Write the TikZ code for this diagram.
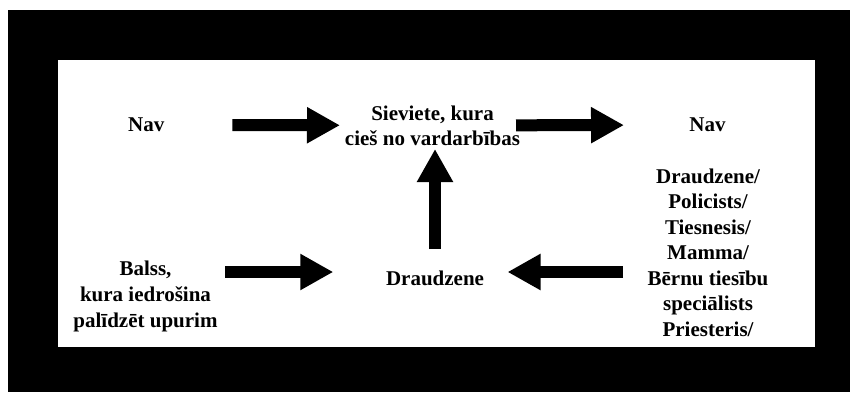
\documentclass[tikz,border=0pt]{standalone}
\usepackage{fontspec}
\setmainfont{Liberation Serif}
\usetikzlibrary{positioning,arrows.meta}

\begin{document}
\begin{tikzpicture}[x=1pt,y=1pt,>={Triangle[width=34pt,length=33pt]},
		blockarrow/.style={->,line width=12pt},
		lbl/.style={align=center,inner sep=0pt,font=\bfseries\fontsize{21}{25.5}\selectfont}]
			
			\useasboundingbox (0,0) rectangle (850,392);
			\fill[black] (8,0) rectangle (850,382);
			\fill[white] (58,45) rectangle (815,332.5);
			
			\node[lbl] (nav1) at (146.3,267) {Nav};
			\node[lbl,font=\bfseries\fontsize{21}{25}\selectfont] (woman) at (432.5,266.6) {Sieviete, kura\\cieš no vardarbības};
			\node[lbl] (nav2) at (707.5,267) {Nav};
			
			\node[lbl,font=\bfseries\fontsize{21}{26}\selectfont] (balss) at (145.5,95.8) {Balss,\\kura iedrošina\\palīdzēt upurim};
			\node[lbl] (drau) at (435,114.1) {Draudzene};
			\node[lbl] (helpers) at (708,139.6) {Draudzene/\\Policists/\\Tiesnesis/\\Mamma/\\Bērnu tiesību\\speciālists\\Priesteris/};
			
			\coordinate (r2) at (0,120);
			
			\draw[blockarrow,shorten <=86pt,shorten >=92.5pt] (nav1.center)--(woman.center);
			\draw[blockarrow,shorten <=83.5pt,shorten >=83.5pt] (woman.center)--(nav2.center);
			\draw[blockarrow,shorten <=28.9pt,shorten >=23.6pt] (drau.center)--(drau.center |- woman.center);
			\draw[blockarrow,shorten <=79.5pt,shorten >=101.7pt] (balss |- r2)--(drau |- r2);
			\draw[blockarrow,shorten <=85pt,shorten >=72.5pt] (helpers |- r2)--(drau |- r2);
			
		\end{tikzpicture}
\end{document}
